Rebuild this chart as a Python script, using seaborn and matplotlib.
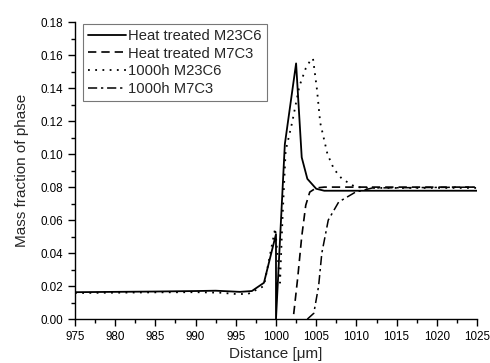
import matplotlib
matplotlib.use("Agg")
import matplotlib.pyplot as plt
from matplotlib.ticker import MultipleLocator, FormatStrFormatter
import seaborn as sns
import pandas as pd

# ---- data ----
ht_m23_x = [975, 980, 985, 990, 992.5, 995.5, 997, 998.5, 1000, 1000, 1001.1, 1002.5,
            1003.2, 1003.9, 1005, 1006, 1010, 1025]
ht_m23_y = [0.0163, 0.0165, 0.0167, 0.0170, 0.0172, 0.0165, 0.0170, 0.0220, 0.0515, 0.0,
            0.106, 0.155, 0.098, 0.085, 0.079, 0.0778, 0.0778, 0.0778]

ht_m7_x = [1002.2, 1002.7, 1003.2, 1003.7, 1004.2, 1005, 1006, 1025]
ht_m7_y = [0.003, 0.025, 0.050, 0.069, 0.077, 0.0795, 0.080, 0.080]

h1000_m23_x = [975, 980, 985, 990, 993, 995, 996.5, 998.5, 999.9, 1000.5, 1000.8, 1001.2,
               1002, 1002.9, 1003.7, 1004.3, 1004.6, 1005.1, 1005.5, 1006.4, 1007.2,
               1008.2, 1009.9, 1012, 1025]
h1000_m23_y = [0.0158, 0.0160, 0.0162, 0.0163, 0.0160, 0.0152, 0.0152, 0.0200, 0.0550,
               0.0220, 0.060, 0.102, 0.119, 0.141, 0.152, 0.157, 0.158, 0.139, 0.119,
               0.100, 0.091, 0.085, 0.080, 0.0795, 0.0795]

h1000_m7_x = [1003.9, 1004.7, 1005.3, 1005.7, 1006.5, 1007.8, 1009.9, 1012, 1025]
h1000_m7_y = [0.0, 0.0035, 0.020, 0.040, 0.060, 0.071, 0.077, 0.0795, 0.080]

series_names = ["Heat treated M23C6", "Heat treated M7C3", "1000h M23C6", "1000h M7C3"]

x_ticks = [975, 980, 985, 990, 995, 1000, 1005, 1010, 1015, 1020, 1025]
x_label = "Distance [\u03bcm]"
y_label = "Mass fraction of phase"

# ---- figure ----
sns.set_style("white")
plt.rcParams["font.family"] = ["Liberation Sans", "DejaVu Sans"]

fig = plt.figure(figsize=(4.9, 3.63), dpi=100)
ax = fig.add_axes([0.153, 0.121, 0.8205, 0.818])

styles = [
    dict(linestyle="-", linewidth=1.3),
    dict(linestyle=(0, (5, 3)), linewidth=1.2),
    dict(linestyle=(0, (1, 3)), linewidth=1.3),
    dict(linestyle=(0, (6, 2.5, 1.5, 2.5)), linewidth=1.1),
]
data = [(ht_m23_x, ht_m23_y), (ht_m7_x, ht_m7_y), (h1000_m23_x, h1000_m23_y),
        (h1000_m7_x, h1000_m7_y)]

for (xs, ys), name, st in zip(data, series_names, styles):
    df = pd.DataFrame({"x": xs, "y": ys})
    sns.lineplot(data=df, x="x", y="y", ax=ax, color="black", sort=False,
                 estimator=None, label=name, **st)

ax.set_xlim(975, 1025)
ax.set_ylim(0, 0.18)
ax.set_xticks(x_ticks)
ax.xaxis.set_minor_locator(MultipleLocator(2.5))
ax.yaxis.set_major_locator(MultipleLocator(0.02))
ax.yaxis.set_minor_locator(MultipleLocator(0.01))
ax.yaxis.set_major_formatter(FormatStrFormatter("%.2f"))

for s in ["top", "right"]:
    ax.spines[s].set_visible(False)
for s in ["left", "bottom"]:
    ax.spines[s].set_color("black")
    ax.spines[s].set_linewidth(1.0)

ax.tick_params(which="both", direction="out", colors="black", width=1.0,
               left=True, bottom=True, labelsize=8.4)
ax.tick_params(which="major", length=5)
ax.tick_params(which="minor", length=3)

ax.set_xlabel(x_label, fontsize=11, labelpad=3)
ax.set_ylabel(y_label, fontsize=11, labelpad=8)

leg = ax.legend(loc="upper left", bbox_to_anchor=(0.02, 0.995), fontsize=10.6,
                frameon=True, fancybox=False, handlelength=2.55, handletextpad=0.15,
                borderpad=0.35, labelspacing=0.26, borderaxespad=0.0)
leg.get_frame().set_edgecolor("#555555")
leg.get_frame().set_linewidth(0.8)

fig.savefig("out.png", dpi=100)
